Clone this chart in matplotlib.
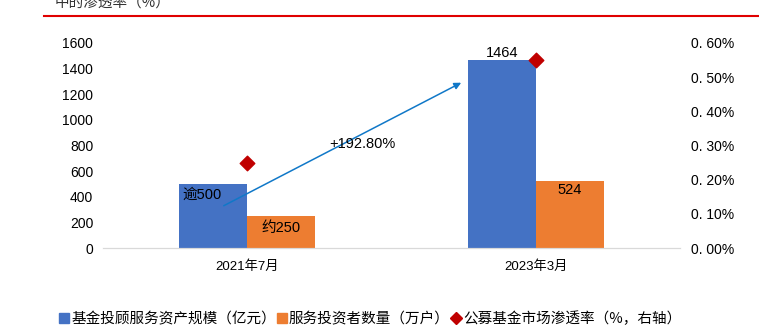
import matplotlib
matplotlib.use('Agg')
import matplotlib.pyplot as plt
from matplotlib.lines import Line2D
from matplotlib.patches import Patch
import numpy as np

plt.rcParams['font.family'] = ['Liberation Sans', 'Noto Sans CJK SC', 'DejaVu Sans']

# data
categories = ['2021年7月', '2023年3月']
asset_scale = [500, 1464]          # 亿元
investors = [250, 524]             # 万户
penetration = [0.25, 0.55]         # %, right axis
asset_labels = ['逾500', '1464']
investor_labels = ['约250', '524']
growth_text = '+192.80%'

left_ticks = [0, 200, 400, 600, 800, 1000, 1200, 1400, 1600]
right_ticks = [0.0, 0.1, 0.2, 0.3, 0.4, 0.5, 0.6]

blue = '#4472C4'
orange = '#ED7D31'
red = '#C00000'

fig = plt.figure(figsize=(7.59, 3.25), dpi=100)
ax = fig.add_axes([0.1357, 0.2369, 0.7603, 0.6308])
ax2 = ax.twinx()

x = np.arange(len(categories))
w = 0.236
ax.bar(x - w / 2, asset_scale, w, color=blue, zorder=2)
ax.bar(x + w / 2, investors, w, color=orange, zorder=2)
ax2.scatter(x, penetration, marker='D', s=55, color=red, zorder=3)

ax.set_xlim(-0.5, 1.5)
ax.set_ylim(0, 1600)
ax2.set_ylim(0, 0.6)
ax.set_xticks(x)
ax.set_xticklabels(categories, fontsize=9.5)
ax.set_yticks(left_ticks)
ax.set_yticklabels([str(t) for t in left_ticks], fontsize=10)
ax2.set_yticks(right_ticks)
ax2.set_yticklabels([f'{t:.2f}%'.replace('.', '. ') for t in right_ticks], fontsize=10)
ax.tick_params(length=0, pad=9)
ax.tick_params(axis='y', pad=7)
ax2.tick_params(length=0, pad=8)
for a in (ax, ax2):
    for s in ('top', 'left', 'right'):
        a.spines[s].set_visible(False)
    a.spines['bottom'].set_color('#D9D9D9')

# value labels
ax.text(x[0] - w * 0.95, asset_scale[0] - 30, asset_labels[0], fontsize=10.5, va='top', ha='left', zorder=4)
ax.text(x[0] + w / 2, investors[0] - 40, investor_labels[0], fontsize=10.5, va='top', ha='center', zorder=4)
ax.text(x[1] - w / 2, asset_scale[1] + 5, asset_labels[1], fontsize=10.5, va='bottom', ha='center', zorder=4)
ax.text(x[1] + w / 2, investors[1] - 20, investor_labels[1], fontsize=10.5, va='top', ha='center', zorder=4)

# growth arrow
ax.annotate('', xy=(0.75, 1300), xytext=(-0.09, 320),
            arrowprops=dict(arrowstyle='-|>', color='#1078C8', lw=1.1, mutation_scale=10), zorder=5)
ax.text(0.40, 815, growth_text, fontsize=10.5, ha='center', va='center', zorder=5)

# header remnant
fig.text(55 / 759, 1 - 11 / 325, '中的渗透率（%）', fontsize=10.5, color='#333333',
         family=['Noto Sans CJK SC'], va='bottom', ha='left')
fig.add_artist(Line2D([44 / 759, 1.0], [1 - 16 / 325] * 2, color='#E00000', lw=1.5))

handles = [Patch(color=blue), Patch(color=orange),
           Line2D([], [], marker='D', color=red, lw=0, markersize=6)]
labels = ['基金投顾服务资产规模（亿元）', '服务投资者数量（万户）', '公募基金市场渗透率（%，右轴）']
fig.legend(handles, labels, loc='center', bbox_to_anchor=(0.4875, 1 - 319 / 325), ncol=3,
           frameon=False, handlelength=0.7, handleheight=0.7, handletextpad=0.15,
           columnspacing=0.05, prop={'family': ['Noto Sans CJK SC'], 'size': 10.5})

fig.savefig('out.png', dpi=100)
